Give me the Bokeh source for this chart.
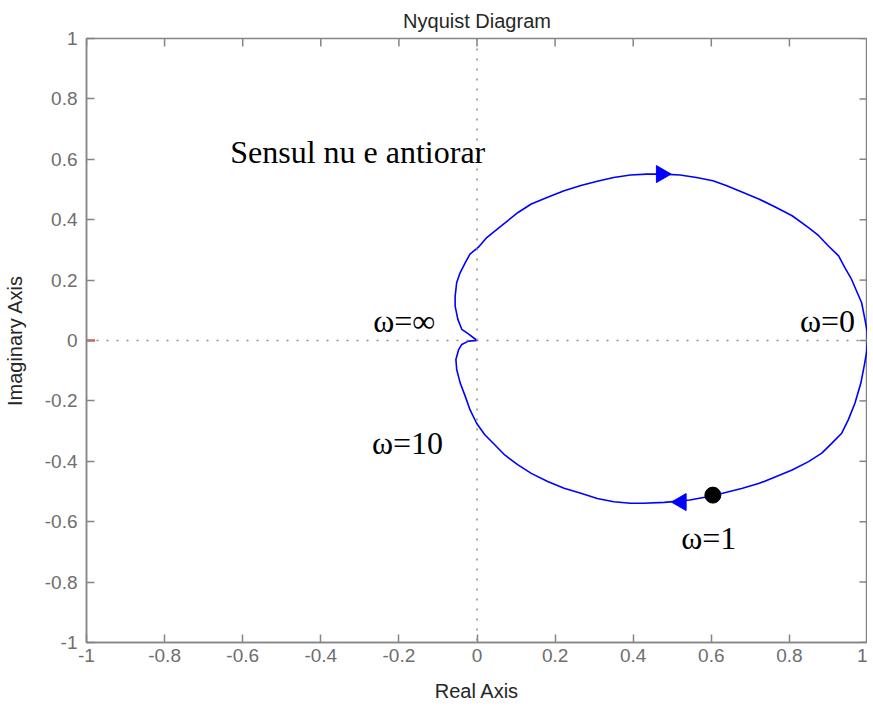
from math import pi
from bokeh.plotting import figure
from bokeh.models import Range1d, Span, Label, FixedTicker
from bokeh.embed import file_html
from bokeh.resources import INLINE

# Nyquist curve, branch for negative frequencies (upper half), origin -> (1, 0)
upper_re = [0.0, -0.022, -0.039, -0.049, -0.056, -0.056, -0.052, -0.043, -0.030, -0.018,
            0.003, 0.025, 0.063, 0.105, 0.139, 0.181, 0.223, 0.266, 0.308, 0.350,
            0.393, 0.435, 0.477, 0.520, 0.562, 0.604, 0.638, 0.680, 0.723, 0.765,
            0.807, 0.849, 0.875, 0.900, 0.926, 0.942, 0.959, 0.972, 0.985, 0.990,
            0.995, 0.999, 1.0]
upper_im = [0.0, 0.022, 0.037, 0.070, 0.114, 0.147, 0.192, 0.225, 0.258, 0.286,
            0.308, 0.341, 0.380, 0.424, 0.452, 0.474, 0.496, 0.513, 0.527, 0.540,
            0.548, 0.551, 0.551, 0.548, 0.540, 0.529, 0.513, 0.491, 0.468, 0.441,
            0.413, 0.374, 0.347, 0.313, 0.280, 0.241, 0.203, 0.164, 0.125, 0.092,
            0.059, 0.030, 0.0]
# branch for positive frequencies (lower half), (1, 0) -> origin
lower_re = [1.0, 0.998, 0.993, 0.983, 0.968, 0.951, 0.934, 0.909, 0.883, 0.849,
            0.807, 0.765, 0.723, 0.680, 0.629, 0.587, 0.545, 0.480, 0.426, 0.393,
            0.350, 0.308, 0.266, 0.223, 0.181, 0.139, 0.105, 0.071, 0.046, 0.020,
            -0.001, -0.018, -0.030, -0.043, -0.052, -0.054, -0.047, -0.039, -0.022, 0.0]
lower_im = [0.0, -0.035, -0.074, -0.141, -0.207, -0.262, -0.307, -0.340, -0.373, -0.401,
            -0.429, -0.451, -0.473, -0.489, -0.506, -0.518, -0.528, -0.536, -0.539, -0.539,
            -0.534, -0.523, -0.506, -0.489, -0.467, -0.440, -0.412, -0.379, -0.346, -0.312,
            -0.274, -0.229, -0.185, -0.141, -0.096, -0.063, -0.030, -0.013, -0.002, 0.0]

arrow_re = [0.472, 0.523]
arrow_im = [0.551, -0.535]
arrow_dir = [-pi / 2, pi / 2]   # right, left

omega1_re = [0.604]
omega1_im = [-0.512]

crit_re = [-1.0]
crit_im = [0.0]

ticks = [-1, -0.8, -0.6, -0.4, -0.2, 0, 0.2, 0.4, 0.6, 0.8, 1]
tick_labels = ["-1", "-0.8", "-0.6", "-0.4", "-0.2", "0", "0.2", "0.4", "0.6", "0.8", "1"]

notes = ["Sensul nu e antiorar", "\u03c9=\u221e", "\u03c9=0", "\u03c9=10", "\u03c9=1"]
notes_x = [-0.632, -0.266, 0.827, -0.269, 0.523]
notes_y = [0.625, 0.063, 0.063, -0.339, -0.654]

AX = "#858585"
TL = "#6e6e6e"
SANS = "Liberation Sans"

p = figure(width=867, height=704, x_range=Range1d(-1, 1), y_range=Range1d(-1, 1),
           output_backend="svg", toolbar_location=None, title="Nyquist Diagram",
           x_axis_label="Real Axis", y_axis_label="Imaginary Axis",
           min_border_left=82, min_border_top=37, min_border_right=0,
           min_border_bottom=20)
p.background_fill_color = "white"
p.border_fill_color = "white"
p.outline_line_color = AX
p.outline_line_width = 1.5
p.xgrid.visible = False
p.ygrid.visible = False

p.title.align = "center"
p.title.text_font = SANS
p.title.text_font_size = "20px"
p.title.text_font_style = "normal"
p.title.text_color = "#262626"
p.title.standoff = 14

overrides = {t: s for t, s in zip(ticks, tick_labels)}

for ax in (p.xaxis[0], p.yaxis[0]):
    ax.ticker = FixedTicker(ticks=ticks)
    ax.major_label_overrides = overrides
    ax.axis_line_color = AX
    ax.axis_line_width = 1.5
    ax.major_tick_line_color = AX
    ax.major_tick_line_width = 1.5
    ax.major_tick_in = 8
    ax.major_tick_out = 0
    ax.minor_tick_line_color = None
    ax.major_label_text_font = SANS
    ax.major_label_text_font_size = "19px"
    ax.major_label_text_color = TL
    ax.axis_label_text_font = SANS
    ax.axis_label_text_font_size = "20px"
    ax.axis_label_text_font_style = "normal"
    ax.axis_label_text_color = "#262626"

p.xaxis[0].major_label_standoff = 6
p.xaxis[0].axis_label_standoff = 15
p.yaxis[0].major_label_standoff = 9
p.yaxis[0].axis_label_standoff = 16

# inward ticks on the top and right edges of the box (half of each dash is clipped)
p.scatter(ticks, [p.y_range.end] * len(ticks), marker="dash", angle=pi / 2, size=16,
          line_color=AX, line_width=1.5)
p.scatter([p.x_range.end] * len(ticks), ticks, marker="dash", size=16,
          line_color=AX, line_width=1.5)

p.add_layout(Span(location=0, dimension="width", line_color="#8c8c8c",
                  line_width=1.5, line_dash="2 8"))
p.add_layout(Span(location=0, dimension="height", line_color="#8c8c8c",
                  line_width=1.5, line_dash="2 8"))

p.line(upper_re, upper_im, line_color="#0000ff", line_width=1.6)
p.line(lower_re, lower_im, line_color="#0000ff", line_width=1.6)
p.scatter(arrow_re, arrow_im, marker="triangle", angle=arrow_dir, size=17,
          fill_color="#0000ff", line_color="#0000ff")
p.scatter(omega1_re, omega1_im, marker="circle", size=16,
          fill_color="black", line_color="black")
p.scatter(crit_re, crit_im, marker="dash", size=17, line_color="red", line_width=2)

for t, x, y in zip(notes, notes_x, notes_y):
    p.add_layout(Label(x=x, y=y, text=t, text_font="Liberation Serif",
                       text_font_size="32px", text_color="black",
                       text_align="left", text_baseline="alphabetic"))

open("out.html", "w").write(file_html(p, INLINE))
